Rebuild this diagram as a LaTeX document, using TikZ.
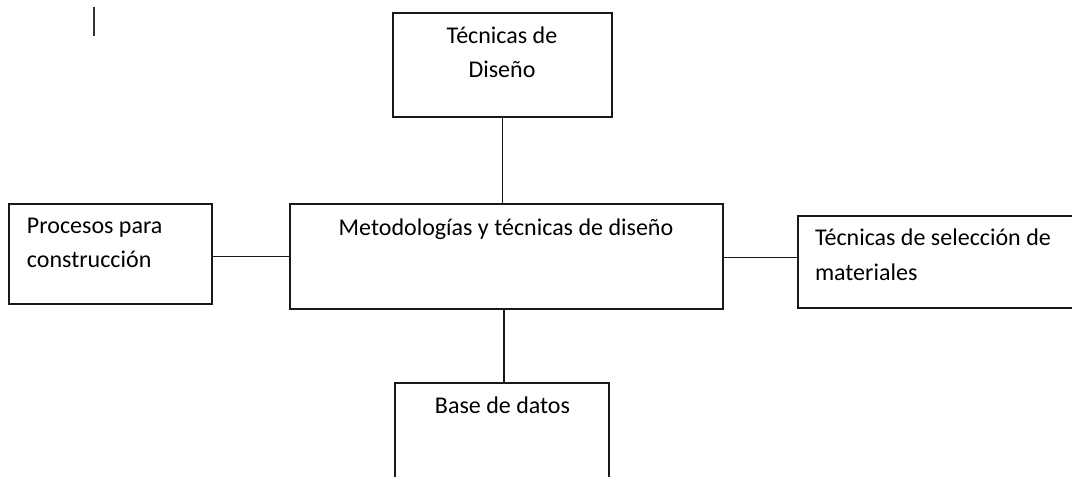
\documentclass[tikz,border=0pt]{standalone}
\usepackage{fontspec}
\setmainfont{Carlito}
\begin{document}
\begin{tikzpicture}[x=1pt,y=-1pt,
  box/.style={draw=black!90, line width=1.5pt, fill=white, inner sep=0pt, outer sep=0pt},
  lbl/.style={inner sep=0pt, outer sep=0pt, text=black, font=\fontsize{24}{34}\selectfont},
  link/.style={draw=black!90, line width=1.5pt}]
\useasboundingbox (0,0) rectangle (1072,477);
\clip (0,0) rectangle (1072,477);
% boxes
\node[box, minimum width=219pt, minimum height=104pt] (top) at (502.5,65) {};
\node[box, minimum width=433pt, minimum height=105pt] (center) at (506.5,256.5) {};
\node[box, minimum width=203pt, minimum height=100pt] (left) at (110.5,254) {};
\node[box, minimum width=282pt, minimum height=92pt] (right) at (939,262) {};
\node[box, minimum width=214pt, minimum height=107pt] (bottom) at (502,436.5) {};
% connectors
\draw[link] (top.south) -- (top.south |- center.north);
\draw[link] ([xshift=2pt]bottom.north) -- ([xshift=2pt]bottom.north |- center.south);
\draw[link] (center.west) -- (center.west -| left.east);
\draw[link] ([yshift=-1pt]center.east) -- ([yshift=-1pt]center.east -| right.west);
% texts
\node[lbl, anchor=base] (topA) at (502,43) {Técnicas de};
\node[lbl, anchor=base] (topB) at (502,77) {Diseño};
\node[lbl, anchor=base west] (leftA) at (27,233) {Procesos para};
\node[lbl, anchor=base west] (leftB) at (27,267) {construcción};
\node[lbl, anchor=base] (centerA) at (506,235) {Metodologías y técnicas de diseño};
\node[lbl, anchor=base west] (rightA) at (815,245) {Técnicas de selección de};
\node[lbl, anchor=base west] (rightB) at (815,280) {materiales};
\node[lbl, anchor=base] (bottomA) at (502.5,413) {Base de datos};
% text cursor
\coordinate (curA) at (94,7);
\coordinate (curB) at (94,36);
\draw[line width=2pt, black!80] (curA) -- (curB);
\end{tikzpicture}
\end{document}
